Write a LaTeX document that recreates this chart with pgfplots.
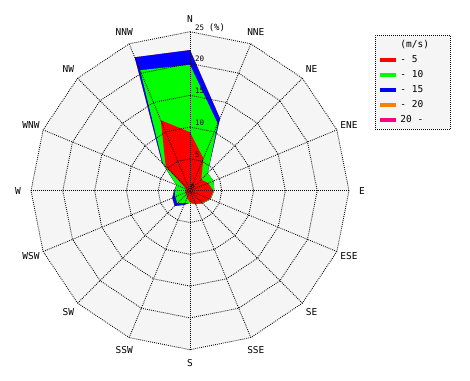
\documentclass[border=0pt]{standalone}
\usepackage{pgfplots}
\pgfplotsset{compat=1.18}
\usepackage{pgfplotstable}
\usepackage{fontspec}
\setmainfont{DejaVu Sans Mono}
\definecolor{bggray}{RGB}{245,245,245}
\definecolor{wred}{RGB}{255,0,0}
\definecolor{wgreen}{RGB}{0,255,0}
\definecolor{wblue}{RGB}{0,0,255}
\definecolor{worange}{RGB}{255,128,0}
\definecolor{wpink}{RGB}{255,0,128}

% direction angle (deg, math convention), cumulative frequency (%) by speed class
\pgfplotstableread{
a      r5   r10  r15  r20  rall
90     9.2  19.8 22.1 22.1 22.1
67.5   5.5  11.4 12.3 12.3 12.3
45     2.5  3.9  3.9  3.9  3.9
22.5   3.1  4.0  4.0  4.0  4.0
0      3.7  3.8  3.8  3.8  3.8
-22.5  3.4  3.5  3.5  3.5  3.5
-45    2.7  2.8  2.8  2.8  2.8
-67.5  2.3  2.3  2.3  2.3  2.3
-90    1.8  1.9  1.9  1.9  1.9
-112.5 1.2  2.1  2.4  2.4  2.4
-135   0.8  2.8  3.4  3.4  3.4
-157.5 0.8  2.5  3.0  3.0  3.0
180    0.8  2.4  2.5  2.5  2.5
157.5  0.6  2.3  2.3  2.3  2.3
135    5.4  6.0  6.2  6.2  6.2
112.5  12.0 20.5 22.7 22.7 22.7
90     9.2  19.8 22.1 22.1 22.1
}\windtable

\tikzset{gridline/.style={black, line width=0.85pt, dash pattern=on 0.85pt off 1.15pt}}

\begin{document}
\begin{tikzpicture}
\path (0pt,0pt) rectangle (470pt,380pt);
\begin{axis}[
  at={(0pt,0pt)}, anchor=south west,
  width=470pt, height=380pt, scale only axis,
  xmin=-29.874, xmax=44.025, ymin=-29.764, ymax=29.984,
  hide axis, clip=false,
  legend style={at={(axis cs:29.09,24.48)}, anchor=north west,
    draw=black, line width=0.85pt, dash pattern=on 0.85pt off 1.15pt,
    fill=bggray, font=\fontsize{9.5}{9.5}\selectfont,
    inner xsep=5pt, inner ysep=5pt, row sep=6pt, column sep=4pt,
    nodes={inner sep=0pt, text height=7pt, text depth=2pt}},
  legend cell align=left,
  legend image code/.code={\fill[#1, draw=none] (0pt,-2.4pt) rectangle (16pt,2.4pt);},
]
% background
\addplot[fill=bggray, draw=none, data cs=polar, forget plot] coordinates {
 (90,25) (67.5,25) (45,25) (22.5,25) (0,25) (-22.5,25) (-45,25) (-67.5,25)
 (-90,25) (-112.5,25) (-135,25) (-157.5,25) (180,25) (157.5,25) (135,25) (112.5,25) (90,25)};
% stacked areas
\addplot[fill=wpink, draw=none, data cs=polar, forget plot] table[x=a, y=rall] {\windtable};
\addplot[fill=worange, draw=none, data cs=polar, forget plot] table[x=a, y=r20] {\windtable};
\addplot[fill=wblue, draw=none, data cs=polar, forget plot] table[x=a, y=r15] {\windtable};
\addplot[fill=wgreen, draw=none, data cs=polar, forget plot] table[x=a, y=r10] {\windtable};
\addplot[fill=wred, draw=none, data cs=polar, forget plot] table[x=a, y=r5] {\windtable};
% grid rings
\pgfplotsinvokeforeach{5,10,15,20,25}{
\addplot[gridline, data cs=polar, forget plot] coordinates {
 (90,#1) (67.5,#1) (45,#1) (22.5,#1) (0,#1) (-22.5,#1) (-45,#1) (-67.5,#1)
 (-90,#1) (-112.5,#1) (-135,#1) (-157.5,#1) (180,#1) (157.5,#1) (135,#1) (112.5,#1) (90,#1)};
}
% radial lines
\pgfplotsinvokeforeach{90,67.5,45,22.5,0,-22.5,-45,-67.5,-90,-112.5,-135,-157.5,180,157.5,135,112.5}{
\addplot[gridline, data cs=polar, forget plot] coordinates {(#1,0) (#1,25)};
}
% legend
\addlegendimage{empty legend}\addlegendentry{(m/s)}
\addlegendimage{fill=wred}\addlegendentry{\makebox[45pt][l]{- 5}}
\addlegendimage{fill=wgreen}\addlegendentry{- 10}
\addlegendimage{fill=wblue}\addlegendentry{- 15}
\addlegendimage{fill=worange}\addlegendentry{- 20}
\addlegendimage{fill=wpink}\addlegendentry{20 -}
% ring labels
\begin{scope}[every node/.style={inner sep=0pt, anchor=base west, font=\fontsize{7.5}{7.5}\selectfont}]
\node at (axis cs:0.12,0.3) {\fontsize{6}{6}\selectfont 0};
\node at (axis cs:0.79,5.25) {5};
\node at (axis cs:0.79,10.25) {10};
\node at (axis cs:0.79,15.25) {15};
\node at (axis cs:0.79,20.25) {20};
\node at (axis cs:0.79,25.25) {25 {\fontsize{9}{9}\selectfont(\%)}};
\end{scope}
% direction labels
\begin{scope}[every node/.style={inner sep=0pt, anchor=center, font=\fontsize{9.5}{9.5}\selectfont}]
\node at (axis cs:{27.05*cos(90)},{27.05*sin(90)}) {N};
\node at (axis cs:{27.05*cos(67.5)},{27.05*sin(67.5)}) {NNE};
\node at (axis cs:{27.05*cos(45)},{27.05*sin(45)}) {NE};
\node at (axis cs:{27.05*cos(22.5)},{27.05*sin(22.5)}) {ENE};
\node at (axis cs:{27.05*cos(0)},{27.05*sin(0)}) {E};
\node at (axis cs:{27.05*cos(-22.5)},{27.05*sin(-22.5)}) {ESE};
\node at (axis cs:{27.05*cos(-45)},{27.05*sin(-45)}) {SE};
\node at (axis cs:{27.05*cos(-67.5)},{27.05*sin(-67.5)}) {SSE};
\node at (axis cs:{27.05*cos(-90)},{27.05*sin(-90)}) {S};
\node at (axis cs:{27.05*cos(-112.5)},{27.05*sin(-112.5)}) {SSW};
\node at (axis cs:{27.05*cos(-135)},{27.05*sin(-135)}) {SW};
\node at (axis cs:{27.05*cos(-157.5)},{27.05*sin(-157.5)}) {WSW};
\node at (axis cs:{27.05*cos(180)},{27.05*sin(180)}) {W};
\node at (axis cs:{27.05*cos(157.5)},{27.05*sin(157.5)}) {WNW};
\node at (axis cs:{27.05*cos(135)},{27.05*sin(135)}) {NW};
\node at (axis cs:{27.05*cos(112.5)},{27.05*sin(112.5)}) {NNW};
\end{scope}
\end{axis}
\end{tikzpicture}
\end{document}
